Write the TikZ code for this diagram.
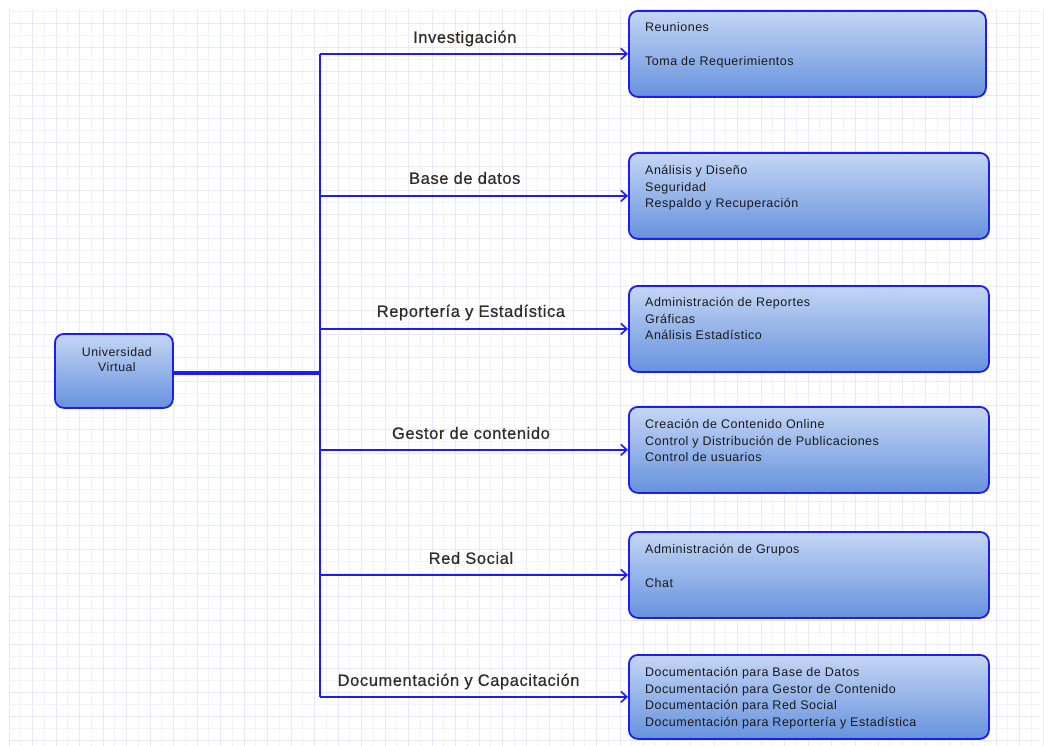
\documentclass[tikz,border=0pt]{standalone}
\usepackage{fontspec}
\setmainfont{Liberation Sans}
\usetikzlibrary{arrows.meta,calc}

\definecolor{gridminor}{RGB}{242,242,253}
\definecolor{gridmajor}{RGB}{232,232,251}
\definecolor{edge}{RGB}{28,28,248}
\definecolor{filltop}{RGB}{196,214,244}
\definecolor{fillbot}{RGB}{102,146,222}
\definecolor{itemtext}{RGB}{26,26,26}
\definecolor{labtext}{RGB}{50,44,38}

\newfontfamily\spacedfont[LetterSpace=4]{Liberation Sans}
\newfontfamily\labelfont[LetterSpace=3.5,FakeBold=0.6]{Liberation Sans}

\tikzset{
  rbox/.style={draw=edge, line width=1.8pt, rounded corners=9pt,
    top color=filltop, bottom color=fillbot,
    anchor=north west, inner sep=0pt},
  items/.style={anchor=north west, inner sep=0pt, align=left,
    text=itemtext, font=\spacedfont\fontsize{12.5}{16.5}\selectfont,
    execute at begin node=\strut},
  roottext/.style={anchor=north, inner sep=0pt, align=center,
    text=itemtext, font=\spacedfont\fontsize{12.3}{15}\selectfont,
    execute at begin node=\strut},
  lab/.style={anchor=base, inner sep=0pt, text=labtext,
    font=\labelfont\fontsize{16.5}{18}\selectfont},
  branch/.style={draw=edge, line width=1.9pt,
    -{Straight Barb[length=6pt,width=11pt,line width=1.6pt]}},
  trunk/.style={draw=edge, line width=2.4pt},
  feed/.style={draw=edge, line width=4pt},
}

\begin{document}
\begin{tikzpicture}[x=1pt,y=-1pt]
\useasboundingbox (0,0) rectangle (1044,746);

% background grid
\foreach \i in {0,...,88} {
  \pgfmathsetmacro{\gx}{9+11.75*\i}
  \ifodd\i \def\gc{gridminor}\else\def\gc{gridmajor}\fi
  \draw[\gc, line width=0.8pt] (\gx,9) -- (\gx,746);
}
\foreach \i in {0,...,62} {
  \pgfmathsetmacro{\gy}{11.3+11.95*\i}
  \ifodd\i \def\gc{gridmajor}\else\def\gc{gridminor}\fi
  \draw[\gc, line width=0.8pt] (9,\gy) -- (1040,\gy);
}

% root
\node[rbox, minimum width=118pt, minimum height=74pt] (root) at (54,333) {};
\node[roottext] (rootlbl) at ($(root.north)+(3,14.5)$) {Universidad\\Virtual};

% right-hand boxes
\node[rbox, minimum width=357pt, minimum height=86pt] (b1) at (628,10) {};
\node[rbox, minimum width=360pt, minimum height=86pt] (b2) at (628,152) {};
\node[rbox, minimum width=360pt, minimum height=86pt] (b3) at (628,285) {};
\node[rbox, minimum width=360pt, minimum height=86pt] (b4) at (628,406) {};
\node[rbox, minimum width=360pt, minimum height=86pt] (b5) at (628,531) {};
\node[rbox, minimum width=360pt, minimum height=84pt] (b6) at (628,654) {};

\node[items] (i1) at ($(b1.north west)+(17,12.5)$) {Reuniones\\[17.5pt]Toma de Requerimientos};
\node[items] (i2) at ($(b2.north west)+(17,13.5)$) {Análisis y Diseño\\Seguridad\\Respaldo y Recuperación};
\node[items] (i3) at ($(b3.north west)+(17,12.5)$) {Administración de Reportes\\Gráficas\\Análisis Estadístico};
\node[items] (i4) at ($(b4.north west)+(17,13.5)$) {Creación de Contenido Online\\Control y Distribución de Publicaciones\\Control de usuarios};
\node[items] (i5) at ($(b5.north west)+(17,13.5)$) {Administración de Grupos\\[17.5pt]Chat};
\node[items] (i6) at ($(b6.north west)+(17,13.5)$) {Documentación para Base de Datos\\Documentación para Gestor de Contenido\\Documentación para Red Social\\Documentación para Reportería y Estadística};

% trunk
\coordinate (tx) at (320,0);
\coordinate (t1) at (b1.west -| tx);
\coordinate (t2) at (b2.west -| tx);
\coordinate (t3) at (b3.west -| tx);
\coordinate (t4) at (b4.west -| tx);
\coordinate (t5) at (b5.west -| tx);
\coordinate (t6) at (b6.west -| tx);
\coordinate (tr) at ($(root.east)+(0,2)$);
\coordinate (tm) at (tr -| tx);

\draw[feed] (tr) -- (tm);
\draw[trunk] (t1) -- (t6);

% branches with labels
\draw[branch] (t1) -- (b1.west) node[lab, pos=0.47, yshift=11pt] (l1) {Investigación};
\draw[branch] (t2) -- (b2.west) node[lab, pos=0.47, yshift=12pt] (l2) {Base de datos};
\draw[branch] (t3) -- (b3.west) node[lab, pos=0.49, yshift=12pt] (l3) {Reportería y Estadística};
\draw[branch] (t4) -- (b4.west) node[lab, pos=0.49, yshift=11pt] (l4) {Gestor de contenido};
\draw[branch] (t5) -- (b5.west) node[lab, pos=0.49, yshift=11pt] (l5) {Red Social};
\draw[branch] (t6) -- (b6.west) node[lab, pos=0.45, yshift=11pt] (l6) {Documentación y Capacitación};
\end{tikzpicture}
\end{document}
